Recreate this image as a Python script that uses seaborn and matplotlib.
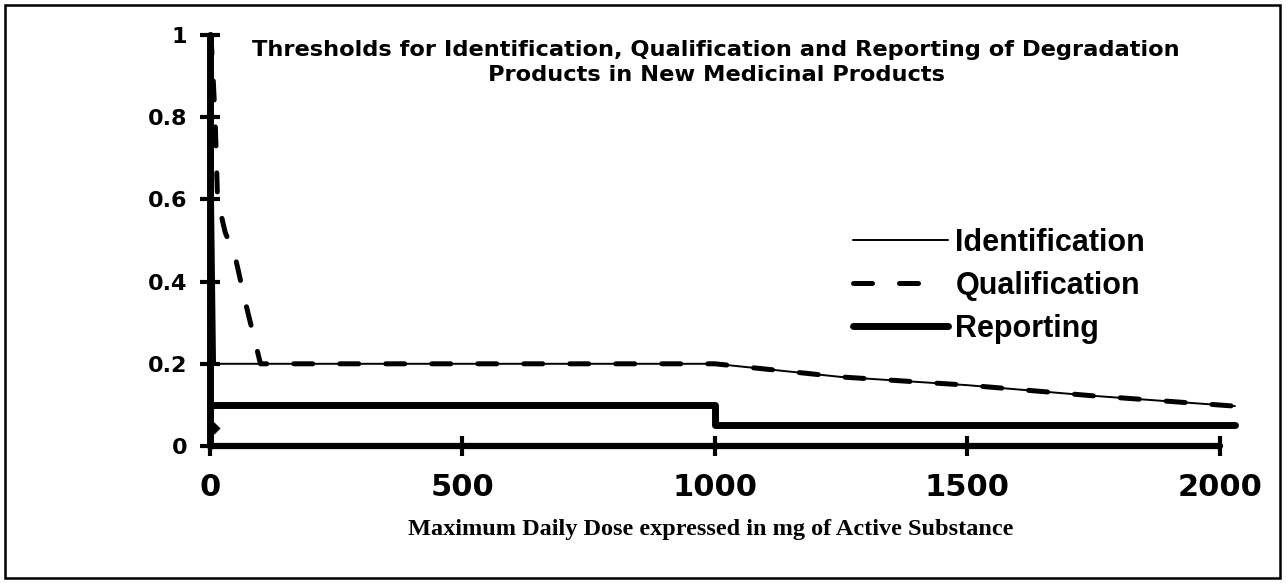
import pandas as pd
import matplotlib.pyplot as plt
import matplotlib.patches as patches
import seaborn as sns

# 最大日剂量 (mg) 与 阈值 (%)
ident_dose = [0, 2, 10, 1000, 1250, 1500, 1750, 2030]
ident_pct = [1.0, 1.0, 0.2, 0.2, 0.168, 0.148, 0.122, 0.097]
qual_dose = [2, 10, 15, 30, 50, 70, 90, 100, 1000, 1250, 1500, 1750, 2030]
qual_pct = [1.0, 0.8, 0.6, 0.52, 0.46, 0.35, 0.25, 0.2, 0.2, 0.168, 0.148, 0.122, 0.097]
report_dose = [0, 1000, 1000, 2030]
report_pct = [0.1, 0.1, 0.05, 0.05]
marker_dose = [8]
marker_pct = [0.045]

x_ticks = [0, 500, 1000, 1500, 2000]
y_ticks = [0, 0.2, 0.4, 0.6, 0.8, 1]
y_ticklabels = ['0', '0.2', '0.4', '0.6', '0.8', '1']

title1 = 'Thresholds for Identification, Qualification and Reporting of Degradation'
title2 = 'Products in New Medicinal Products'
xlabel = 'Maximum Daily Dose expressed in mg of Active Substance'

sns.set_style('white')
plt.rcParams['font.family'] = ['Liberation Sans', 'DejaVu Sans']
plt.rcParams['font.weight'] = 'bold'
for k in ['text.color', 'axes.labelcolor', 'xtick.color', 'ytick.color', 'axes.edgecolor']:
    plt.rcParams[k] = 'black'

W, H = 1287, 583
fig = plt.figure(figsize=(W / 100, H / 100), dpi=100)
ax = fig.add_axes([210 / W, 137 / H, (1240 - 210) / W, 411 / H])

df_ident = pd.DataFrame({'dose': ident_dose, 'pct': ident_pct})
df_qual = pd.DataFrame({'dose': qual_dose, 'pct': qual_pct})
df_report = pd.DataFrame({'dose': report_dose, 'pct': report_pct})

sns.lineplot(data=df_ident, x='dose', y='pct', ax=ax, color='black', linewidth=1.4,
             estimator=None, sort=False, label='Identification', clip_on=False)
sns.lineplot(data=df_qual, x='dose', y='pct', ax=ax, color='black', linewidth=3.6,
             linestyle=(0, (3.8, 5.4)), dash_capstyle='round', estimator=None, sort=False,
             label='Qualification', clip_on=False)
sns.lineplot(data=df_report, x='dose', y='pct', ax=ax, color='black', linewidth=5,
             estimator=None, sort=False, label='Reporting', clip_on=False,
             solid_capstyle='round')
sns.scatterplot(x=marker_dose, y=marker_pct, ax=ax, color='black', marker='D', s=45,
                clip_on=False, legend=False)

ax.set_xlim(0, 2040)
ax.set_ylim(0, 1)
ax.set_xticks(x_ticks)
ax.set_xticklabels([str(t) for t in x_ticks])
ax.set_yticks(y_ticks)
ax.set_yticklabels(y_ticklabels)
ax.set_xlabel('')
ax.set_ylabel('')

for side in ['top', 'right']:
    ax.spines[side].set_visible(False)
ax.spines['left'].set_linewidth(5)
ax.spines['bottom'].set_linewidth(4.5)
ax.spines['bottom'].set_bounds(0, 2000)
ax.spines['left'].set_bounds(0, 1)
ax.spines['left'].set_capstyle('round')
ax.spines['bottom'].set_capstyle('round')

ax.tick_params(axis='x', bottom=True, direction='inout', length=14.5, width=3, pad=12,
               labelsize=22)
ax.tick_params(axis='y', left=True, direction='inout', length=14.5, width=3, pad=9,
               labelsize=16)
for lab in ax.get_xticklabels() + ax.get_yticklabels():
    lab.set_fontweight('bold')
    lab.set_family(['DejaVu Sans'])

handles, labels = ax.get_legend_handles_labels()
leg = ax.legend(handles, labels, loc='upper left', bbox_to_anchor=(853 / W, 1 - 228 / H),
                bbox_transform=fig.transFigure, frameon=False, fontsize=22,
                handlelength=3.1, handletextpad=0.25, labelspacing=0.42,
                borderaxespad=0, borderpad=0)
for t in leg.get_texts():
    t.set_fontweight('bold')
# 图例中只显示两段虚线
leg.get_lines()[1].set_linestyle((0, (3.8, 5.4, 3.8, 20)))

fig.text(716 / W, 1 - 56 / H, title1, ha='center', va='baseline', fontsize=16.2,
         fontweight='bold', family=['DejaVu Sans'])
fig.text(716 / W, 1 - 81 / H, title2, ha='center', va='baseline', fontsize=16.2,
         fontweight='bold', family=['DejaVu Sans'])
fig.text(711 / W, 1 - 530 / H, xlabel, ha='center', va='center', fontsize=17.5,
         fontweight='bold', family=['Liberation Serif', 'DejaVu Serif'])

# 外框
fig.patches.append(patches.Rectangle((5 / W, 5 / H), 1275 / W, 573 / H,
                                     transform=fig.transFigure, fill=False,
                                     edgecolor='black', linewidth=1.8))

fig.savefig('out.png', dpi=100)
